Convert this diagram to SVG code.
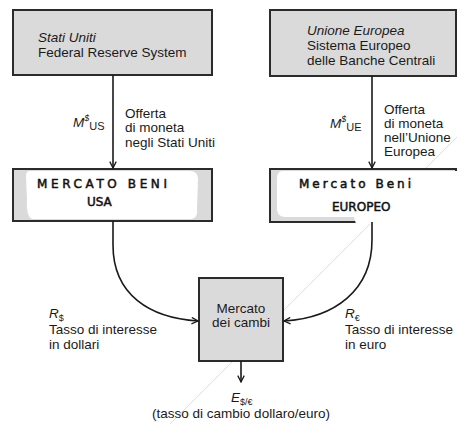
<svg xmlns="http://www.w3.org/2000/svg" width="457" height="424" viewBox="0 0 457 424">
<defs>
<style>
.box{fill:#dadada;stroke:#2b2b2b;stroke-width:2}
.t{font-family:"Liberation Sans",Arial,sans-serif;font-size:13.5px;fill:#1a1a1a}
.i{font-style:italic}
.hw{font-family:"DejaVu Sans",sans-serif;font-size:12px;fill:#111;stroke:#111;stroke-width:0.5}
.c{fill:none;stroke:#1a1a1a;stroke-width:1.6}
.blob{fill:#ffffff}
</style>
<marker id="ah" viewBox="0 0 10 10" refX="9" refY="5" markerWidth="8" markerHeight="8" markerUnits="userSpaceOnUse" orient="auto">
<path d="M1,1 L9,5 L1,9" fill="none" stroke="#1a1a1a" stroke-width="1.6"/>
</marker>
</defs>
<rect width="457" height="424" fill="#ffffff"/>
<line x1="170" y1="424" x2="457" y2="137" stroke="#cfe2f3" stroke-width="1"/>

<g id="fed">
<rect class="box" x="13" y="10" width="199" height="65"/>
<text class="t i" x="38" y="42">Stati Uniti</text>
<text class="t" x="38" y="57">Federal Reserve System</text>
</g>

<g id="bce">
<rect class="box" x="270" y="10" width="186" height="66"/>
<text class="t i" x="307" y="35">Unione Europea</text>
<text class="t" x="307" y="50">Sistema Europeo</text>
<text class="t" x="307" y="65">delle Banche Centrali</text>
</g>

<g id="mercato-usa">
<rect class="box" x="13" y="169" width="199" height="52"/>
<path class="blob" d="M30,171 Q26,171 26,176 L27,200 Q26,216 32,219 L192,219 Q198,217 197,210 L198,178 Q197,171 190,171 Z"/>
<text class="hw" x="37" y="188" textLength="130" lengthAdjust="spacing">MERCATO BENI</text>
<text class="hw" x="87" y="206">USA</text>
</g>

<g id="mercato-ue">
<rect class="box" x="270" y="169" width="186" height="53"/>
<path class="blob" d="M282,171 Q277,172 277,178 L277,210 Q278,217 285,217 L354,217 L356,224 L457,224 L457,171 Z"/>
<text class="hw" x="299" y="188" textLength="112" lengthAdjust="spacing">Mercato Beni</text>
<text class="hw" x="332" y="211">EUROPEO</text>
</g>

<g id="cambi">
<rect class="box" x="199" y="278" width="84" height="83"/>
<text class="t" x="241" y="313" text-anchor="middle">Mercato</text>
<text class="t" x="241" y="327" text-anchor="middle">dei cambi</text>
</g>

<g id="connectors">
<line class="c" x1="113" y1="75" x2="113" y2="168" marker-end="url(#ah)"/>
<line class="c" x1="372" y1="76" x2="372" y2="168" marker-end="url(#ah)"/>
<path class="c" d="M113,221 L113,245 C113,295 150,318 198,321" marker-end="url(#ah)"/>
<path class="c" d="M372,222 L372,240 C372,290 335,318 284,321" marker-end="url(#ah)"/>
<line class="c" x1="241" y1="361" x2="241" y2="382" marker-end="url(#ah)"/>
</g>

<g id="labels">
<text class="t" x="73" y="127"><tspan class="i">M</tspan><tspan dy="-6" font-size="9" class="i">$</tspan><tspan dy="9" font-size="11">US</tspan></text>
<text class="t" x="125" y="118">Offerta</text>
<text class="t" x="125" y="132">di moneta</text>
<text class="t" x="125" y="147">negli Stati Uniti</text>

<text class="t" x="330" y="128"><tspan class="i">M</tspan><tspan dy="-6" font-size="9" class="i">$</tspan><tspan dy="9" font-size="11">UE</tspan></text>
<text class="t" x="384" y="114">Offerta</text>
<text class="t" x="384" y="128">di moneta</text>
<text class="t" x="384" y="142">nell’Unione</text>
<text class="t" x="384" y="156">Europea</text>

<text class="t" x="49" y="318"><tspan class="i">R</tspan><tspan dy="3" font-size="9">$</tspan></text>
<text class="t" x="49" y="334">Tasso di interesse</text>
<text class="t" x="49" y="349">in dollari</text>

<text class="t" x="345" y="318"><tspan class="i">R</tspan><tspan dy="3" font-size="9">€</tspan></text>
<text class="t" x="345" y="334">Tasso di interesse</text>
<text class="t" x="345" y="349">in euro</text>

<text class="t" x="231" y="402"><tspan class="i">E</tspan><tspan dy="3" font-size="9">$/€</tspan></text>
<text class="t" x="241" y="418" text-anchor="middle">(tasso di cambio dollaro/euro)</text>
</g>
</svg>
